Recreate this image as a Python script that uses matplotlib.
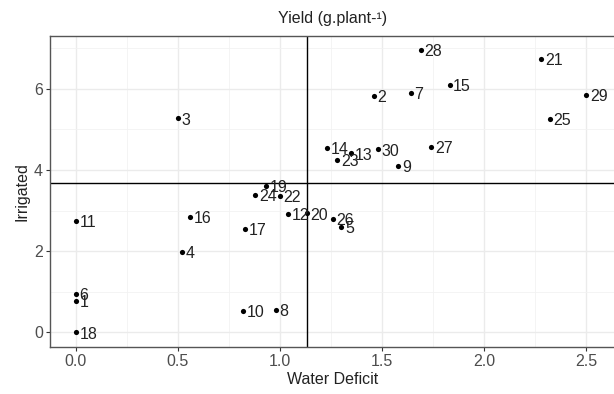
import matplotlib
matplotlib.use("Agg")
import matplotlib.pyplot as plt
from matplotlib.ticker import MultipleLocator
from matplotlib import font_manager

ids = [1, 2, 3, 4, 5, 6, 7, 8, 9, 10, 11, 12, 13, 14, 15,
       16, 17, 18, 19, 20, 21, 22, 23, 24, 25, 26, 27, 28, 29, 30]
water_deficit = [0.00, 1.46, 0.50, 0.52, 1.30, 0.00, 1.64, 0.98, 1.58, 0.82,
                 0.00, 1.04, 1.35, 1.23, 1.83, 0.56, 0.83, 0.00, 0.93, 1.13,
                 2.28, 1.00, 1.28, 0.88, 2.32, 1.26, 1.74, 1.69, 2.50, 1.48]
irrigated = [0.78, 5.82, 5.27, 1.99, 2.60, 0.94, 5.91, 0.55, 4.11, 0.53,
             2.75, 2.91, 4.41, 4.55, 6.10, 2.84, 2.54, 0.00, 3.60, 2.93,
             6.73, 3.36, 4.25, 3.38, 5.25, 2.79, 4.58, 6.96, 5.85, 4.51]
mean_x = 1.131
mean_y = 3.67

title = "Yield (g.plant-\u00b9)"
xlabel = "Water Deficit"
ylabel = "Irrigated"

names = {f.name for f in font_manager.fontManager.ttflist}
fam = "Liberation Sans Narrow" if "Liberation Sans Narrow" in names else "Liberation Sans"
plt.rcParams["font.family"] = [fam, "DejaVu Sans"]

W, H = 614, 394
fig = plt.figure(figsize=(W / 100, H / 100), dpi=100)
left, right_px, top_px, bot_px = 50, 616, 35.7, 347
ax = fig.add_axes([left / W, 1 - bot_px / H, (right_px - left) / W, (bot_px - top_px) / H])

ax.set_xlim(-0.126, 2.645)
ax.set_ylim(-0.36, 7.31)

ax.xaxis.set_major_locator(MultipleLocator(0.5))
ax.xaxis.set_minor_locator(MultipleLocator(0.25))
ax.yaxis.set_major_locator(MultipleLocator(2))
ax.yaxis.set_minor_locator(MultipleLocator(1))
ax.set_xticks([0, 0.5, 1.0, 1.5, 2.0, 2.5])
ax.set_xticklabels(["0.0", "0.5", "1.0", "1.5", "2.0", "2.5"])

ax.grid(True, which="major", color="#ebebeb", lw=1.0, zorder=0)
ax.grid(True, which="minor", color="#f2f2f2", lw=0.6, zorder=0)
ax.set_axisbelow(True)

for s in ["left", "bottom", "top"]:
    ax.spines[s].set_color("#555555")
    ax.spines[s].set_linewidth(1.0)
ax.spines["right"].set_visible(False)

ax.tick_params(which="major", length=3, width=0.8, color="#333333",
               labelsize=11.5, labelcolor="#4d4d4d", pad=2)
ax.tick_params(which="minor", length=0)

ax.axvline(mean_x, color="black", lw=1.0, zorder=2)
ax.axhline(mean_y, color="black", lw=1.0, zorder=2)

ax.scatter(water_deficit, irrigated, s=14, color="black", zorder=3, linewidths=0)
for i, x, y in zip(ids, water_deficit, irrigated):
    ax.annotate(str(i), (x, y), xytext=(2.6, -1.2), textcoords="offset points",
                ha="left", va="center", fontsize=11.5, color="#222222", zorder=4)

ax.set_xlabel(xlabel, fontsize=11.5, color="#222222", labelpad=2)
ax.set_ylabel(ylabel, fontsize=11.5, color="#222222", labelpad=3)
fig.text((left + right_px) / 2 / W, 1 - 18 / H, title, ha="center", va="center",
         fontsize=11.5, color="#222222")

fig.savefig("out.png", dpi=100)
